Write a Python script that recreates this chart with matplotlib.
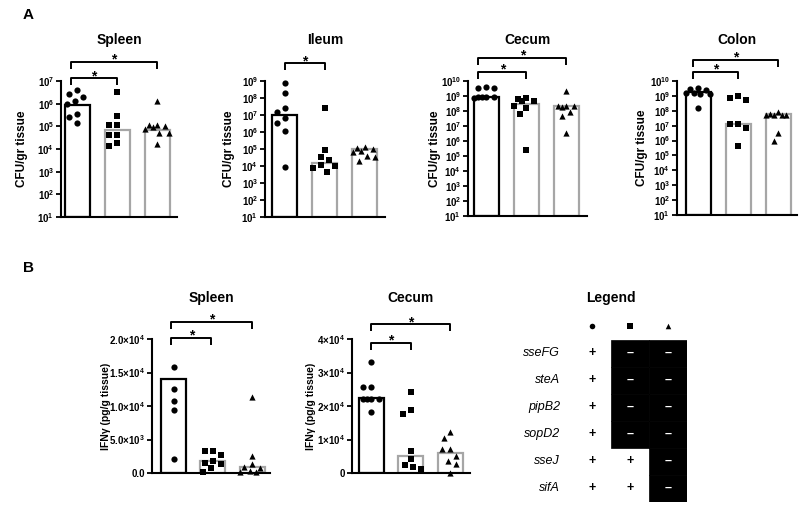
import matplotlib
matplotlib.use('Agg')
import matplotlib.pyplot as plt
import numpy as np
from matplotlib.ticker import NullLocator
from matplotlib.transforms import blended_transform_factory

plt.rcParams['font.family'] = ['Liberation Sans', 'DejaVu Sans']
plt.rcParams['font.weight'] = 'bold'
plt.rcParams['mathtext.fontset'] = 'custom'
plt.rcParams['mathtext.rm'] = 'Liberation Sans:bold'
plt.rcParams['mathtext.bf'] = 'Liberation Sans:bold'
plt.rcParams['mathtext.it'] = 'Liberation Sans:italic:bold'

# ---------------- data: panel A (CFU / gr tissue) ----------------
spleen_wt = [4.0e6, 2.0e6, 2.8e6, 1.3e6, 1.0e6, 3.5e5, 1.4e5, 2.5e5]
spleen_m2 = [3.2e6, 3.0e5, 1.1e5, 1.2e5, 4.3e4, 4.3e4, 1.4e4, 1.9e4]
spleen_m3 = [1.3e6, 1.1e5, 1.2e5, 1.0e5, 9e4, 8e4, 5e4, 5e4, 1.7e4]
spleen_bar = [9e5, 7e4, 7e4]

ileum_wt = [7.6e8, 1.9e8, 1.5e7, 2.6e7, 3.4e6, 6.6e6, 1.1e6, 8.7e3]
ileum_m2 = [2.5e7, 8.7e4, 3.4e4, 1.1e4, 4.5e3, 1.0e4, 2.2e4, 7.6e3]
ileum_m3 = [1.3e5, 1.1e5, 1.0e5, 8e4, 6.3e4, 4e4, 3.5e4, 2e4]
ileum_bar = [1e7, 1.5e4, 1e5]

cecum_wt = [4e9, 3.2e9, 3.5e9, 9e8, 8e8, 8e8, 8.3e8, 7.6e8]
cecum_m2 = [4.7e8, 5e8, 7.4e8, 6.3e8, 2.1e8, 1.6e8, 6.3e7, 2.5e5]
cecum_m3 = [2.1e9, 2e8, 2e8, 1.9e8, 2.2e8, 8e7, 5e7, 3.5e6]
cecum_bar = [8.5e8, 3e8, 2e8]

colon_wt = [3.2e9, 2.8e9, 2.5e9, 1.6e9, 1.4e9, 1.6e9, 1.3e9, 1.6e8]
colon_m2 = [1e9, 5.4e8, 7.4e8, 1.35e7, 1.35e7, 7.4e6, 4e5]
colon_m3 = [8.5e7, 5.5e7, 5e7, 5.5e7, 6e7, 5e7, 3e6, 1e6]
colon_bar = [1.9e9, 1.2e7, 6e7]

# ---------------- data: panel B (IFNg pg/g tissue) ----------------
ifn_spleen_wt = [15800, 12500, 10700, 9400, 2100]
ifn_spleen_m2 = [3300, 3300, 2700, 1800, 1300, 1500, 750, 150]
ifn_spleen_m3 = [11300, 2500, 1300, 900, 700, 300, 150, 100]
ifn_spleen_bar = [14000, 1800, 900]

ifn_cecum_wt = [33000, 25800, 25800, 22200, 22200, 22200, 22000, 18200]
ifn_cecum_m2 = [24200, 18800, 17600, 6600, 4200, 2400, 1800, 1200]
ifn_cecum_m3 = [12200, 10500, 7100, 7100, 5100, 3600, 2700, 0]
ifn_cecum_bar = [22400, 5100, 6000]

ifn_spleen_ticks = [0, 5000, 10000, 15000, 20000]
ifn_spleen_ticklabels = ['0.0', '5.0\u00d710$^{3}$', '1.0\u00d710$^{4}$',
                         '1.5\u00d710$^{4}$', '2.0\u00d710$^{4}$']
ifn_cecum_ticks = [0, 10000, 20000, 30000, 40000]
ifn_cecum_ticklabels = ['0', '1\u00d710$^{4}$', '2\u00d710$^{4}$',
                        '3\u00d710$^{4}$', '4\u00d710$^{4}$']

# ---------------- legend table ----------------
genes = ['sseFG', 'steA', 'pipB2', 'sopD2', 'sseJ', 'sifA']
strain1 = ['+', '+', '+', '+', '+', '+']
strain2 = ['\u2013', '\u2013', '\u2013', '\u2013', '+', '+']
strain3 = ['\u2013', '\u2013', '\u2013', '\u2013', '\u2013', '\u2013']

markers = ['o', 's', '^']
edgecols = ['black', '#a6a6a6', '#a6a6a6']

W, H = 800, 507
fig = plt.figure(figsize=(W / 100, H / 100), dpi=100)


def add_ax(spine_x, right_x, top_y, bot_y):
    return fig.add_axes([spine_x / W, 1 - bot_y / H, (right_x - spine_x) / W, (bot_y - top_y) / H])


def swarm(ax, x0, vals, sep, maxoff):
    t = ax.transData
    ux = t.transform((1, 0))[0] - t.transform((0, 0))[0]
    pys = [t.transform((x0, v))[1] for v in vals]
    order = np.argsort(pys)[::-1]
    placed = []
    offs = np.zeros(len(vals))
    step = 0.25 * sep
    cands = [0.0]
    k = 1
    while k * step <= maxoff + 1e-6:
        cands += [-k * step, k * step]
        k += 1
    for i in order:
        py = pys[i]
        best, bestd = None, -1
        chosen = None
        for c in cands:
            d = min([np.hypot(c - px, py - qy) for px, qy in placed] + [1e9])
            if d >= sep:
                chosen = c
                break
            if d > bestd:
                best, bestd = c, d
        if chosen is None:
            chosen = best
        placed.append((chosen, py))
        offs[i] = chosen / ux
    return offs


def style_axes(ax, lsize):
    for s in ['top', 'right']:
        ax.spines[s].set_visible(False)
    for s in ['left', 'bottom']:
        ax.spines[s].set_linewidth(1.5)
    ax.tick_params(axis='y', length=3.5, width=1.3, labelsize=lsize, pad=1.5)
    ax.tick_params(axis='x', length=0, labelbottom=False)


def draw_groups(ax, groups, bars, bottom, width, sep, ms, maxoff):
    for i, bh in enumerate(bars):
        ax.bar(i, bh - bottom, bottom=bottom, width=width, facecolor='white',
               edgecolor=edgecols[i], linewidth=1.6, zorder=2)
    for i, vals in enumerate(groups):
        offs = swarm(ax, i, vals, sep, maxoff)
        ax.scatter(np.array([i] * len(vals)) + offs, vals, marker=markers[i], s=ms,
                   color='black', linewidths=0, zorder=3, clip_on=False)


def bracket(ax, x0, x1, yf, drop):
    tr = blended_transform_factory(ax.transData, ax.transAxes)
    ax.plot([x0, x0, x1, x1], [yf - drop, yf, yf, yf - drop], color='black', lw=1.4,
            transform=tr, clip_on=False, solid_capstyle='butt')
    ax.annotate('*', xy=((x0 + x1) / 2, yf), xycoords=tr, xytext=(0, 1.5), textcoords='offset points',
                ha='center', va='center', fontsize=10, fontweight='bold')


# ---------------- panel A ----------------
a_panels = [
    ('Spleen', 61, 177, 81, 217, 7, (spleen_wt, spleen_m2, spleen_m3), spleen_bar, -0.41, 39,
     [(-0.16, 1.0, 1.02), (-0.16, 2.0, 1.14)]),
    ('Ileum', 265, 385, 81, 217, 9, (ileum_wt, ileum_m2, ileum_m3), ileum_bar, -0.49, 36,
     [(0.01, 1.0, 1.13)]),
    ('Cecum', 468, 587, 81, 216, 10, (cecum_wt, cecum_m2, cecum_m3), cecum_bar, -0.46, 33,
     [(-0.2, 1.0, 1.07), (-0.2, 2.0, 1.17)]),
    ('Colon', 677, 797, 81, 215, 10, (colon_wt, colon_m2, colon_m3), colon_bar, -0.525, 35,
     [(-0.12, 1.0, 1.07), (-0.12, 2.0, 1.16)]),
]

for title, sx, rx, ty, by, top_exp, groups, bars, x0, lab_off, brs in a_panels:
    ax = add_ax(sx, rx, ty, by)
    ax.set_yscale('log')
    ax.set_ylim(10, 10 ** top_exp)
    ax.set_xlim(x0, x0 + (rx - sx) / 40)
    style_axes(ax, 7)
    exps = list(range(1, top_exp + 1))
    ax.set_yticks([10.0 ** e for e in exps])
    ax.set_yticklabels([r'$10^{%d}$' % e for e in exps])
    ax.yaxis.set_minor_locator(NullLocator())
    draw_groups(ax, groups, bars, 10, 0.625, 8.0, 20, 12)
    hpx = by - ty
    ax.text(0.5, 1 + 41 / hpx, title, transform=ax.transAxes, ha='center', va='center',
            fontsize=10, fontweight='bold')
    ax.text(-lab_off / (rx - sx), 0.5, 'CFU/gr tissue', transform=ax.transAxes, rotation=90,
            ha='center', va='center', fontsize=8.5, fontweight='bold')
    for b0, b1, yf in brs:
        bracket(ax, b0, b1, yf, 7 / hpx)

# ---------------- panel B ----------------
b_panels = [
    ('Spleen', 152, 270, 339, 473, (ifn_spleen_wt, ifn_spleen_m2, ifn_spleen_m3), ifn_spleen_bar,
     ifn_spleen_ticks, ifn_spleen_ticklabels, -0.55, 39.25, 46,
     [(-0.06, 0.96, 1.01), (-0.06, 2.0, 1.13)]),
    ('Cecum', 352, 470, 339, 473, (ifn_cecum_wt, ifn_cecum_m2, ifn_cecum_m3), ifn_cecum_bar,
     ifn_cecum_ticks, ifn_cecum_ticklabels, -0.49, 39.5, 41,
     [(0.0, 1.0, 0.97), (0.0, 2.0, 1.11)]),
]

for title, sx, rx, ty, by, groups, bars, ticks, tlabels, x0, sp, lab_off, brs in b_panels:
    ax = add_ax(sx, rx, ty, by)
    ax.set_ylim(ticks[0], ticks[-1])
    ax.set_xlim(x0, x0 + (rx - sx) / sp)
    style_axes(ax, 7)
    ax.set_yticks(ticks)
    ax.set_yticklabels(tlabels)
    draw_groups(ax, groups, bars, 0, 25 / sp, 8.0, 20, 12)
    hpx = by - ty
    ax.text(0.5, 1 + 41 / hpx, title, transform=ax.transAxes, ha='center', va='center',
            fontsize=10, fontweight='bold')
    ax.text(-lab_off / (rx - sx), 0.5, 'IFN\u03b3 (pg/g tissue)', transform=ax.transAxes,
            rotation=90, ha='center', va='center', fontsize=7.5, fontweight='bold')
    for b0, b1, yf in brs:
        bracket(ax, b0, b1, yf, 7 / hpx)

# ---------------- legend table ----------------
lx0, lx1, ly0, ly1 = 573, 687, 339.5, 501.5
lax = fig.add_axes([lx0 / W, 1 - ly1 / H, (lx1 - lx0) / W, (ly1 - ly0) / H])
lax.set_xlim(-0.5, 2.5)
lax.set_ylim(len(genes) - 0.5, -0.5)
lax.axis('off')
columns = [strain1, strain2, strain3]
for c, col in enumerate(columns):
    for r, sym in enumerate(col):
        neg = sym != '+'
        if neg:
            lax.add_patch(plt.Rectangle((c - 0.5, r - 0.5), 1, 1, facecolor='black',
                                        edgecolor='black', lw=0.5))
        lax.text(c, r, sym, ha='center', va='center', fontsize=9, fontweight='bold',
                 color='white' if neg else 'black')
for r, g in enumerate(genes):
    lax.text(-0.84, r, g, ha='right', va='center', fontsize=9, style='italic',
             fontweight='normal')
for c, m in enumerate(markers):
    lax.scatter([c], [-1.0], marker=m, s=16, color='black', linewidths=0, clip_on=False)
lax.text(0.5, -2.05, 'Legend', ha='center', va='center', fontsize=10, fontweight='bold')

fig.text(28 / W, 1 - 15 / H, 'A', fontsize=11, fontweight='bold', ha='center', va='center')
fig.text(28 / W, 1 - 268 / H, 'B', fontsize=11, fontweight='bold', ha='center', va='center')

fig.savefig('out.png', dpi=100, facecolor='white')
